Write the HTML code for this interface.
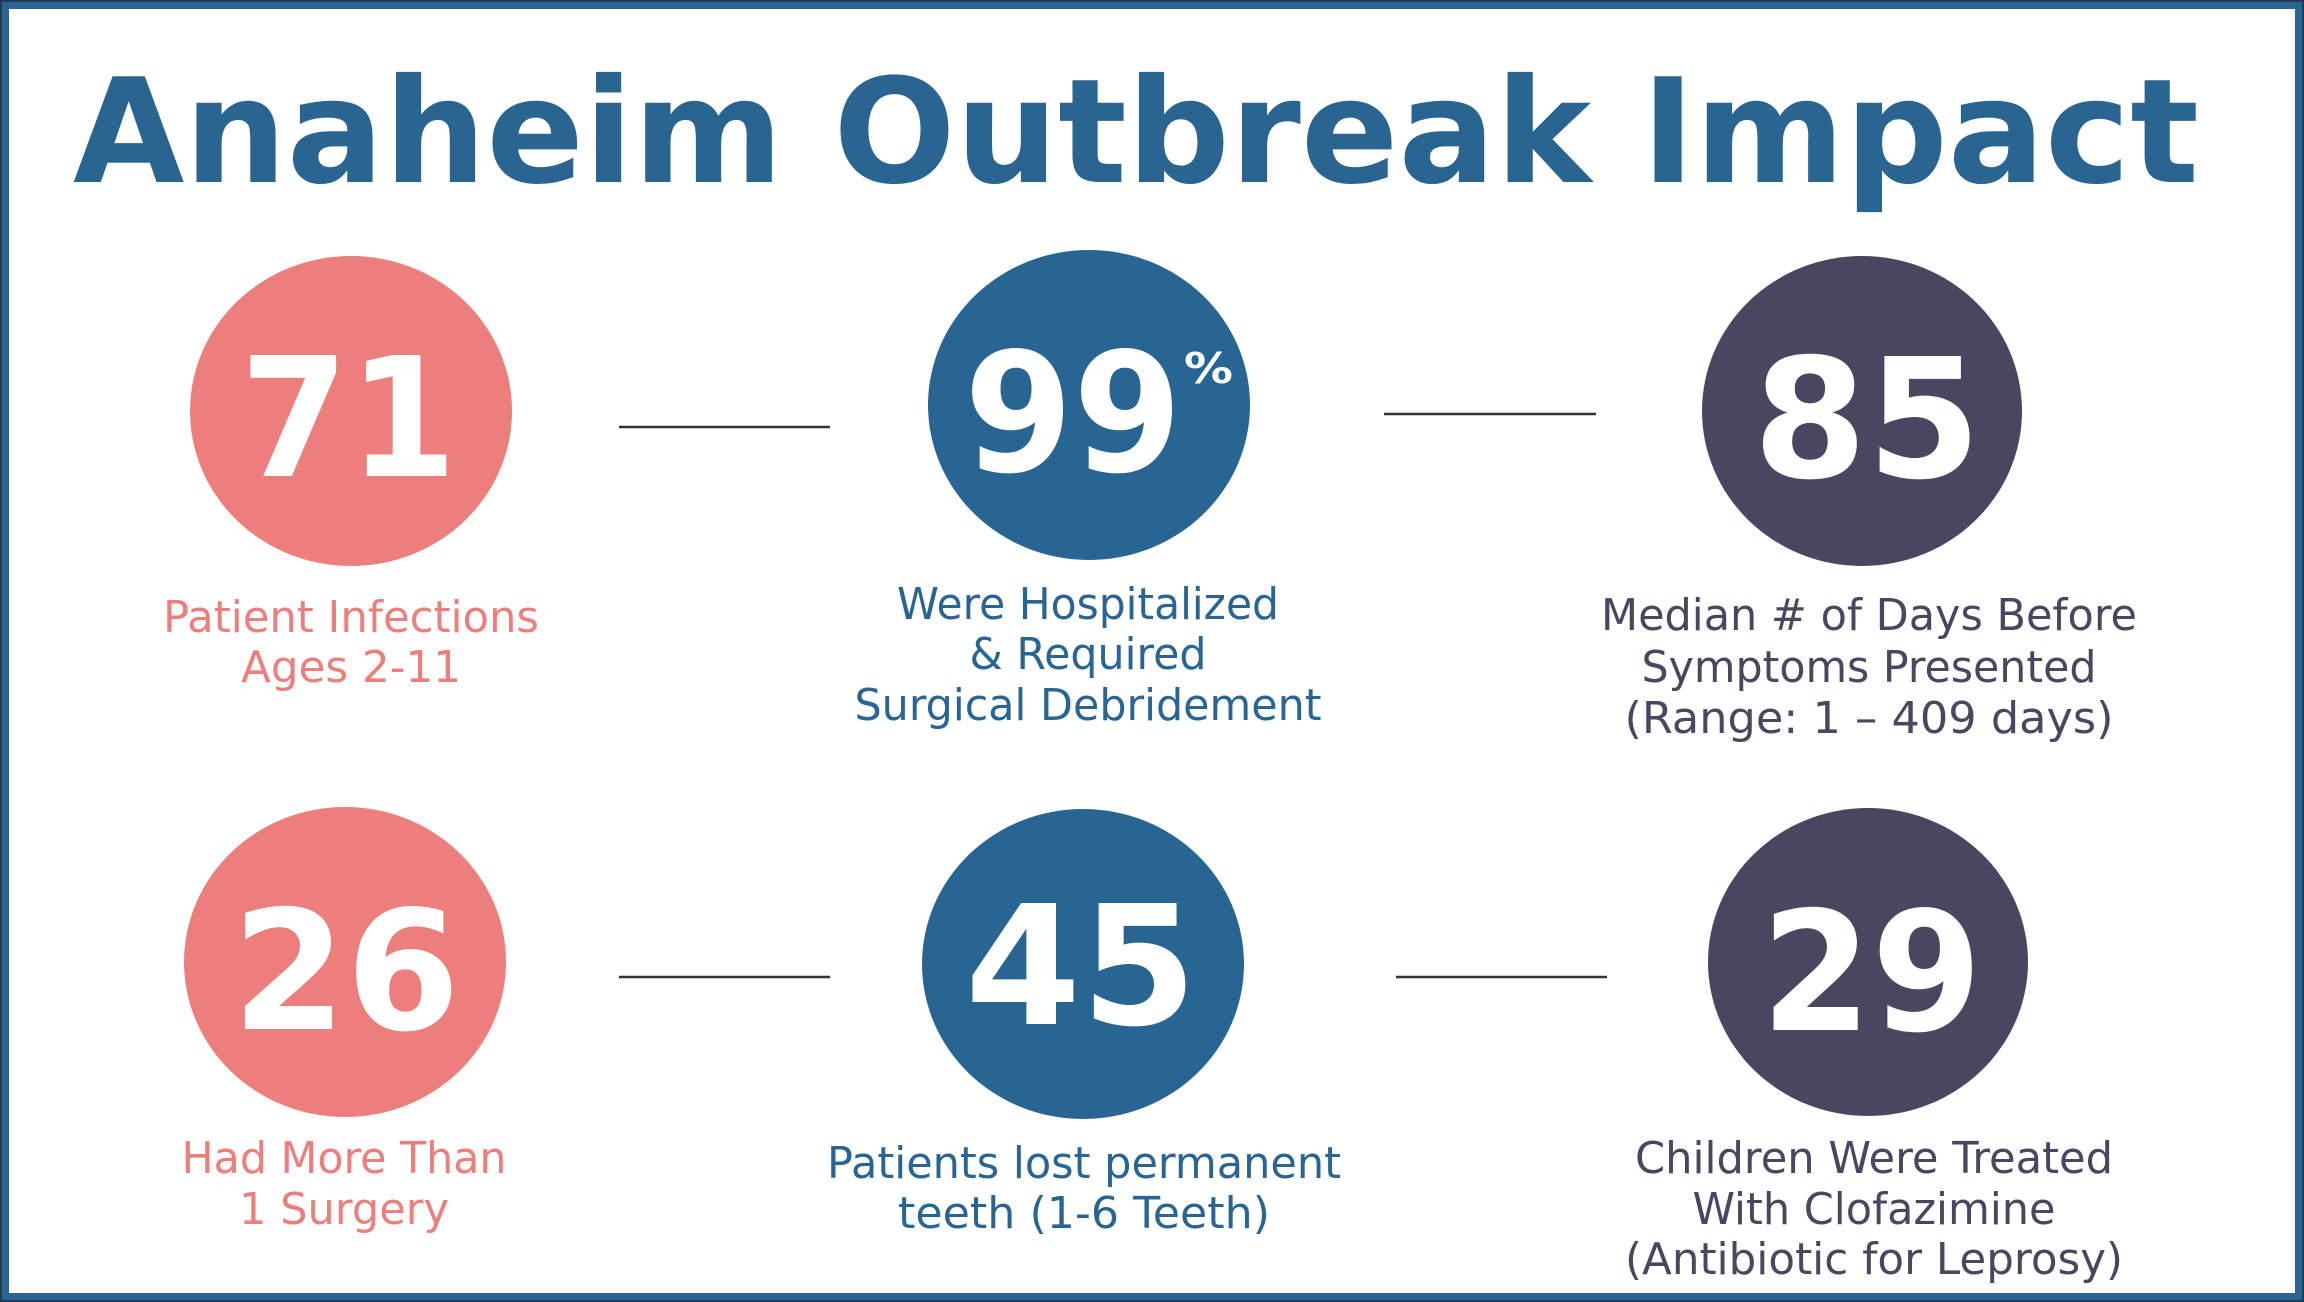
<!DOCTYPE html>
<html><head><meta charset="utf-8"><style>
html,body{margin:0;padding:0;background:#fff;}
svg{display:block;}
</style></head><body>
<svg width="2304" height="1302" viewBox="0 0 2304 1302" xmlns="http://www.w3.org/2000/svg">
<rect x="0" y="0" width="2304" height="1302" fill="#1f3a55"/>
<rect x="2" y="2" width="2300" height="1298" fill="#2a6592"/>
<rect x="9" y="9" width="2286" height="1284" fill="#ffffff"/>
<text x="73" y="182" font-family="DejaVu Sans, Verdana, sans-serif" font-weight="bold" font-size="145" fill="#2a6592" textLength="2126" lengthAdjust="spacingAndGlyphs">Anaheim Outbreak Impact</text>

<g stroke="#333" stroke-width="2.5">
<line x1="619" y1="427" x2="830" y2="427"/>
<line x1="1384" y1="414" x2="1596" y2="414"/>
<line x1="619" y1="977" x2="830" y2="977"/>
<line x1="1396" y1="977" x2="1607" y2="977"/>
</g>

<ellipse cx="351" cy="411" rx="161" ry="155" fill="#ec7f7b"/>
<ellipse cx="1089" cy="405" rx="161" ry="155" fill="#296593"/>
<ellipse cx="1862" cy="411" rx="160" ry="155" fill="#474860"/>
<ellipse cx="345" cy="962" rx="161" ry="155" fill="#ec7f7b"/>
<ellipse cx="1083" cy="964" rx="161" ry="155" fill="#296593"/>
<ellipse cx="1868" cy="962" rx="160" ry="154" fill="#474860"/>

<g font-family="DejaVu Sans, Verdana, sans-serif" font-weight="bold" font-size="166" fill="#fff">
<text x="240" y="476" textLength="217" lengthAdjust="spacingAndGlyphs">71</text>
<text x="964" y="471" textLength="218" lengthAdjust="spacingAndGlyphs">99</text>
<text x="1184" y="383" font-size="42" textLength="49" lengthAdjust="spacingAndGlyphs">%</text>
<text x="1753" y="477" textLength="228" lengthAdjust="spacingAndGlyphs">85</text>
<text x="232" y="1029" textLength="228" lengthAdjust="spacingAndGlyphs">26</text>
<text x="965" y="1024" textLength="232" lengthAdjust="spacingAndGlyphs">45</text>
<text x="1761" y="1030" textLength="221" lengthAdjust="spacingAndGlyphs">29</text>
</g>

<g font-family="DejaVu Sans, Verdana, sans-serif" font-size="44" text-anchor="middle">
<g fill="#ec7f7b">
<text x="351" y="632" textLength="376" lengthAdjust="spacingAndGlyphs">Patient Infections</text>
<text x="351" y="682" textLength="220" lengthAdjust="spacingAndGlyphs">Ages 2-11</text>
<text x="344" y="1173" textLength="325" lengthAdjust="spacingAndGlyphs">Had More Than</text>
<text x="344" y="1224" textLength="210" lengthAdjust="spacingAndGlyphs">1 Surgery</text>
</g>
<g fill="#296593">
<text x="1088" y="619" textLength="382" lengthAdjust="spacingAndGlyphs">Were Hospitalized</text>
<text x="1088" y="669" textLength="237" lengthAdjust="spacingAndGlyphs">&amp; Required</text>
<text x="1088" y="720" textLength="467" lengthAdjust="spacingAndGlyphs">Surgical Debridement</text>
<text x="1084" y="1178" textLength="514" lengthAdjust="spacingAndGlyphs">Patients lost permanent</text>
<text x="1084" y="1228" textLength="372" lengthAdjust="spacingAndGlyphs">teeth (1-6 Teeth)</text>
</g>
<g fill="#474860">
<text x="1869" y="630" textLength="536" lengthAdjust="spacingAndGlyphs">Median # of Days Before</text>
<text x="1869" y="682" textLength="455" lengthAdjust="spacingAndGlyphs">Symptoms Presented</text>
<text x="1869" y="733" textLength="489" lengthAdjust="spacingAndGlyphs">(Range: 1 – 409 days)</text>
<text x="1874" y="1173" textLength="478" lengthAdjust="spacingAndGlyphs">Children Were Treated</text>
<text x="1874" y="1224" textLength="363" lengthAdjust="spacingAndGlyphs">With Clofazimine</text>
<text x="1874" y="1274" textLength="498" lengthAdjust="spacingAndGlyphs">(Antibiotic for Leprosy)</text>
</g>
</g>
</svg>
</body></html>
